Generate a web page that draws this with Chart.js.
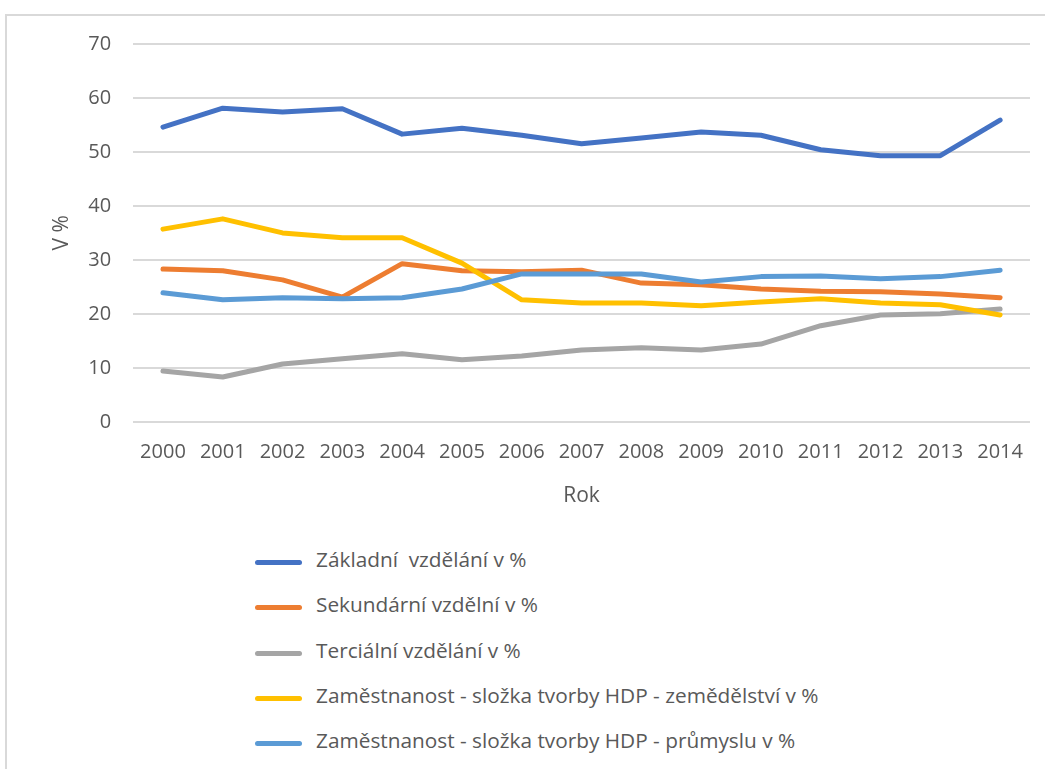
<!DOCTYPE html>
<html>
<head>
<meta charset="utf-8">
<script src="https://cdn.jsdelivr.net/npm/chart.js@4/dist/chart.umd.min.js"></script>
<style>
  body { margin: 0; background: #fff; font-family: "Open Sans", sans-serif; }
  #frame { position: absolute; left: 5px; top: 14px; width: 1100px; height: 800px; border: 2px solid #d9d9d9; box-sizing: border-box; }
  #wrap { position: absolute; left: 0; top: 0; width: 1045px; height: 515px; }
  #legend { position: absolute; left: 255px; top: 545px; }
  .item { height: 45.3px; display: flex; align-items: flex-start; color: #595959; font-size: 20.8px; }
  .swatch { width: 47px; height: 5px; border-radius: 3px; margin-top: 15px; margin-right: 14px; }
</style>
</head>
<body>
<div id="frame"></div>
<div id="wrap"><canvas id="c"></canvas></div>
<div id="legend"></div>
<script>
const years = ["2000","2001","2002","2003","2004","2005","2006","2007","2008","2009","2010","2011","2012","2013","2014"];
const zakladni = [54.6, 58.1, 57.4, 58.0, 53.3, 54.4, 53.1, 51.5, 52.6, 53.7, 53.1, 50.4, 49.3, 49.3, 55.9];
const sekundarni = [28.3, 28.0, 26.3, 23.1, 29.3, 28.0, 27.8, 28.1, 25.7, 25.4, 24.6, 24.2, 24.1, 23.7, 23.0];
const tercialni = [9.4, 8.3, 10.7, 11.7, 12.6, 11.5, 12.2, 13.3, 13.7, 13.3, 14.4, 17.8, 19.8, 20.0, 20.9];
const zemedelstvi = [35.7, 37.6, 35.0, 34.1, 34.1, 29.4, 22.6, 22.0, 22.0, 21.5, 22.2, 22.8, 22.0, 21.7, 19.8];
const prumysl = [23.9, 22.6, 23.0, 22.8, 23.0, 24.6, 27.4, 27.4, 27.4, 25.9, 26.9, 27.0, 26.5, 26.9, 28.1];

const seriesNames = [
  "Základní  vzdělání v %",
  "Sekundární vzdělní v %",
  "Terciální vzdělání v %",
  "Zaměstnanost - složka tvorby HDP - zemědělství v %",
  "Zaměstnanost - složka tvorby HDP - průmyslu v %"
];
const seriesData = [zakladni, sekundarni, tercialni, zemedelstvi, prumysl];
const colors = ["#4472C4", "#ED7D31", "#A5A5A5", "#FFC000", "#5B9BD5"];
const yTicks = [0, 10, 20, 30, 40, 50, 60, 70];

const textColor = "#595959";
const gridColor = "#d9d9d9";

const datasets = seriesNames.map((name, i) => ({
  label: name,
  data: seriesData[i],
  borderColor: colors[i],
  backgroundColor: colors[i],
  borderWidth: 5,
  pointRadius: 0,
  tension: 0,
  borderCapStyle: "round",
  borderJoinStyle: "round",
  order: seriesNames.length - i
}));

const chart = new Chart(document.getElementById("c"), {
  type: "line",
  data: { labels: years, datasets },
  options: {
    responsive: true,
    maintainAspectRatio: false,
    animation: false,
    layout: { padding: { top: 44, right: 15, left: 49, bottom: 2 } },
    plugins: { legend: { display: false }, tooltip: { enabled: false } },
    scales: {
      x: {
        offset: true,
        grid: { display: false },
        border: { display: false },
        ticks: { color: textColor, font: { family: "Open Sans", size: 20 }, padding: 10, maxRotation: 0, autoSkip: false },
        title: { display: true, text: "Rok", color: textColor, font: { family: "Open Sans", size: 21 }, padding: { top: 10 } }
      },
      y: {
        min: 0,
        max: 70,
        afterBuildTicks: s => { s.ticks = yTicks.map(v => ({ value: v })); },
        grid: { color: gridColor, lineWidth: 2, drawTicks: false },
        border: { display: false },
        ticks: { color: textColor, font: { family: "Open Sans", size: 20 }, padding: 22 },
        title: { display: true, text: "V %", color: textColor, font: { family: "Open Sans", size: 21 }, padding: { top: 0, bottom: -8 } }
      }
    }
  }
});

const legendEl = document.getElementById("legend");
chart.data.datasets.forEach(ds => {
  const row = document.createElement("div");
  row.className = "item";
  const sw = document.createElement("span");
  sw.className = "swatch";
  sw.style.background = ds.borderColor;
  const tx = document.createElement("span");
  tx.textContent = ds.label;
  tx.style.whiteSpace = "pre";
  row.appendChild(sw);
  row.appendChild(tx);
  legendEl.appendChild(row);
});
</script>
</body>
</html>
